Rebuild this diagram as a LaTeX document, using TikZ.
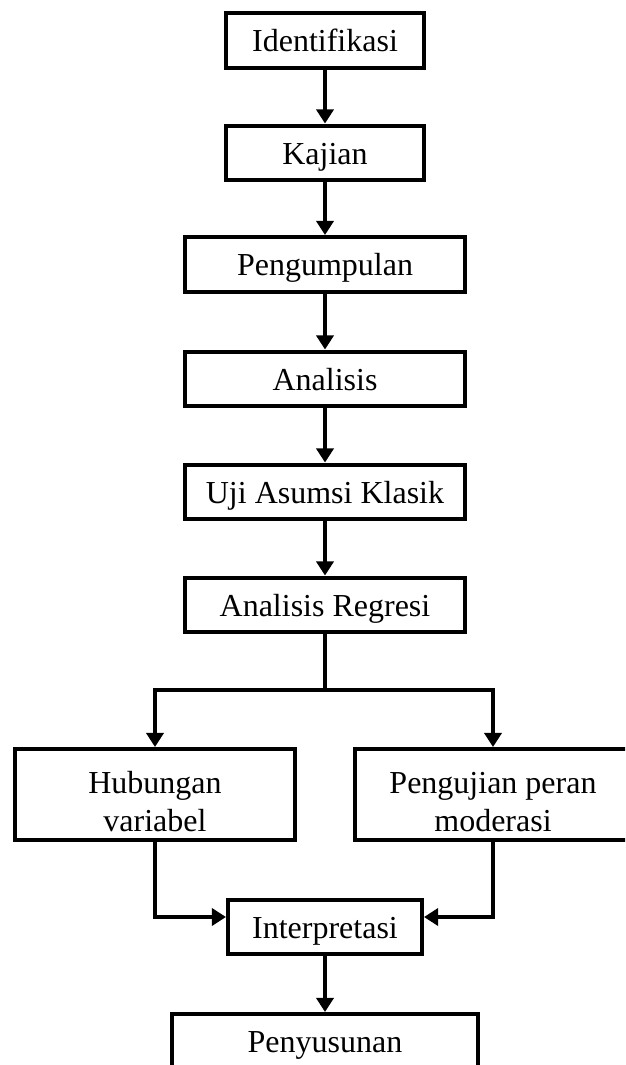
\documentclass[tikz,border=0pt]{standalone}
\usepackage{fontspec}
\setmainfont{Liberation Serif}
\usetikzlibrary{arrows.meta}
\tikzset{
  every picture/.style={line join=miter, >={Triangle[length=5.3pt,width=6.4pt]}},
  stepnode/.style={draw, line width=1.5pt, inner sep=0pt, align=center, font=\fontsize{12}{14}\selectfont},
  smallbox/.style={stepnode, minimum width=73.9pt, minimum height=20.6pt, text height=8.6pt, text depth=0pt},
  widebox/.style={stepnode, minimum width=105pt, minimum height=20.6pt, text height=8.6pt, text depth=0pt},
  tallbox/.style={stepnode, minimum width=105pt, minimum height=34.1pt, text height=27.6pt, text depth=0pt},
  link/.style={line width=1.5pt},
}

\begin{document}
\begin{tikzpicture}[x=0.375pt,y=-0.375pt]
\useasboundingbox(0,0)rectangle(625,1065);
\clip(0,0)rectangle(625,1065);
\node[smallbox](ident)at(325,40.5){Identifikasi};
\node[smallbox](kajian)at(325,153){Kajian};
\node[widebox](kumpul)at(325,264.5){Pengumpulan};
\node[widebox](analisis)at(325,379){Analisis};
\node[widebox](uji)at(325,492){Uji Asumsi Klasik};
\node[widebox](regresi)at(325,605){Analisis Regresi};
\node[tallbox](hubungan)at(155,794.5){Hubungan\\variabel};
\node[tallbox,minimum width=103.5pt](moderasi)at(493,794.5){Pengujian peran\\moderasi};
\node[smallbox,minimum width=72.75pt,minimum height=20.25pt](interp)at(325,927){Interpretasi};
\node[tallbox,minimum width=115.1pt,text height=22.6pt,anchor=north](susun)at(325,1012){Penyusunan\\~};
\coordinate(cabang)at(325,690);
\draw[link,->](ident)--(kajian);
\draw[link,->](kajian)--(kumpul);
\draw[link,->](kumpul)--(analisis);
\draw[link,->](analisis)--(uji);
\draw[link,->](uji)--(regresi);
\draw[link](regresi)--(cabang);
\draw[link,->](cabang)-|(hubungan);
\draw[link,->](cabang)-|(moderasi);
\draw[link,->](hubungan)|-([yshift=3.75pt]interp.west);
\draw[link,->](moderasi)|-([yshift=3.75pt]interp.east);
\draw[link,->](interp)--(susun);
\end{tikzpicture}
\end{document}
